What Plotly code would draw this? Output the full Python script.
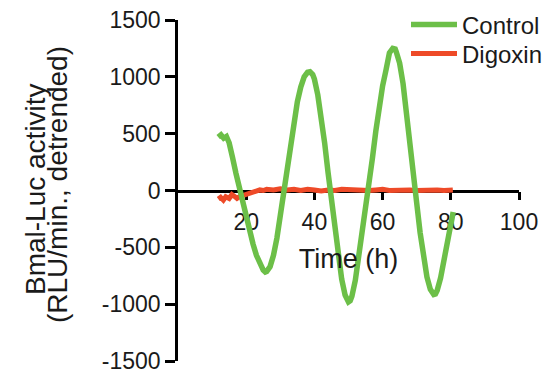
import plotly.graph_objects as go

# ---- data ----
control_time = [11.8, 12.6, 13.4, 14.2, 15.0, 15.5, 16, 17, 18, 19, 20, 21, 22, 23, 24, 25, 25.6, 26, 27, 28,
                29, 30, 31, 32, 33, 34, 35, 36, 37, 38, 38.7, 39.5, 40, 41, 42, 43, 44, 45, 46, 47,
                48, 49, 50, 50.5, 51, 52, 53, 54, 55, 56, 57, 58, 59, 60, 61, 61.5, 61.7, 62, 63, 63.7,
                64, 65, 66, 67, 68, 69, 70, 71, 72, 73, 74, 75, 75.5, 76, 77, 78, 79, 80, 80.7]
control_vals = [470, 490, 460, 475, 420, 370, 290, 150, 20, -110, -240, -360, -470, -570, -650, -700, -717, -712, -670, -570,
                -420, -220, 0, 230, 440, 620, 780, 910, 1000, 1040, 1045, 1020, 980, 840, 650, 420, 160, -100, -360, -590,
                -780, -920, -980, -970, -930, -790, -590, -360, -130, 40, 280, 520, 740, 920, 1060, 1120, 1170, 1210, 1250, 1245,
                1220, 1120, 940, 700, 430, 150, -110, -370, -590, -760, -870, -915, -910, -880, -770, -620, -450, -300, -190]

digoxin_time = [11.8, 12.5, 13.3, 14, 15, 15.8, 16.5, 17.3, 18, 19, 20, 21, 22, 23, 24, 25, 26, 28, 30, 32,
                34, 36, 38, 40, 42, 44, 46, 48, 50, 52, 54, 56, 58, 60, 62, 64, 66, 68, 70, 72,
                74, 76, 78, 80, 80.6]
digoxin_vals = [-75, -60, -85, -55, -70, -35, -50, -70, -55, -45, -30, -20, -10, -5, 5, 0, 10, 5, 15, 5,
                10, 0, 10, 5, -5, 5, 0, 10, 5, 0, 5, 0, 5, 10, 0, 5, 10, 5, 0, 5,
                10, 5, 0, 5, 5]

x_ticks = [20, 40, 60, 80, 100]
y_ticks = [-1500, -1000, -500, 0, 500, 1000, 1500]
y_tick_labels = ["-1500", "-1000", "-500", "0", "500", "1000", "1500"]

FONT = "Liberation Sans, Arial, sans-serif"
GREEN = "#6cbf48"
RED = "#ee4a28"

# page body has an 8px default margin; figure sized to fill the 552x377 window
BODY = 8
W, H = 552 - BODY, 377 - BODY
ML, MR, MT, MB = 178 - BODY, 33, 20 - BODY, 16
PW = W - ML - MR
PH = H - MT - MB


def frac_y(page_y):
    return 1 - (page_y - BODY - MT) / PH


def frac_x(page_x):
    return (page_x - BODY - ML) / PW


fig = go.Figure()
fig.add_trace(go.Scatter(x=digoxin_time, y=digoxin_vals, mode="lines", name="Digoxin",
                         line=dict(color=RED, width=5), legend="legend2"))
fig.add_trace(go.Scatter(x=control_time, y=control_vals, mode="lines", name="Control",
                         line=dict(color=GREEN, width=5.5), legend="legend"))

leg_common = dict(x=frac_x(406), xanchor="left", yanchor="middle", font=dict(size=24),
                  itemwidth=46, bgcolor="rgba(0,0,0,0)")

fig.update_layout(
    width=W, height=H,
    margin=dict(l=ML, r=MR, t=MT, b=MB, pad=0, autoexpand=False),
    paper_bgcolor="white", plot_bgcolor="white",
    font=dict(family=FONT, color="#1a1a1a", size=23),
    showlegend=True,
    legend=dict(y=frac_y(25), **leg_common),
    legend2=dict(y=frac_y(54), **leg_common),
    xaxis=dict(range=[0, 100], tickvals=x_ticks, showline=True, linecolor="black", linewidth=2.5,
               ticks="outside", ticklen=8, tickwidth=2.5, tickcolor="black", showgrid=False, zeroline=False,
               anchor="free", position=0.5, layer="below traces",
               tickfont=dict(size=23), ticklabelstandoff=2, ticklabeloverflow="allow",
               title=dict(text="Time (h)", font=dict(size=27), standoff=15)),
    yaxis=dict(range=[-1500, 1500], tickvals=y_ticks, ticktext=y_tick_labels, showline=True,
               linecolor="black", linewidth=2.5,
               ticks="outside", ticklen=10, tickwidth=2.5, tickcolor="black", showgrid=False, zeroline=False,
               layer="below traces", tickfont=dict(size=23), automargin=False,
               ticklabeloverflow="allow"),
)

fig.add_annotation(text="Bmal-Luc activity", textangle=-90, xref="paper", yref="paper",
                   x=frac_x(35), y=frac_y(189), xanchor="center", yanchor="middle",
                   showarrow=False, font=dict(size=28))
fig.add_annotation(text="(RLU/min., detrended)", textangle=-90, xref="paper", yref="paper",
                   x=frac_x(57), y=frac_y(185), xanchor="center", yanchor="middle",
                   showarrow=False, font=dict(size=28))

fig.write_html("out.html")
